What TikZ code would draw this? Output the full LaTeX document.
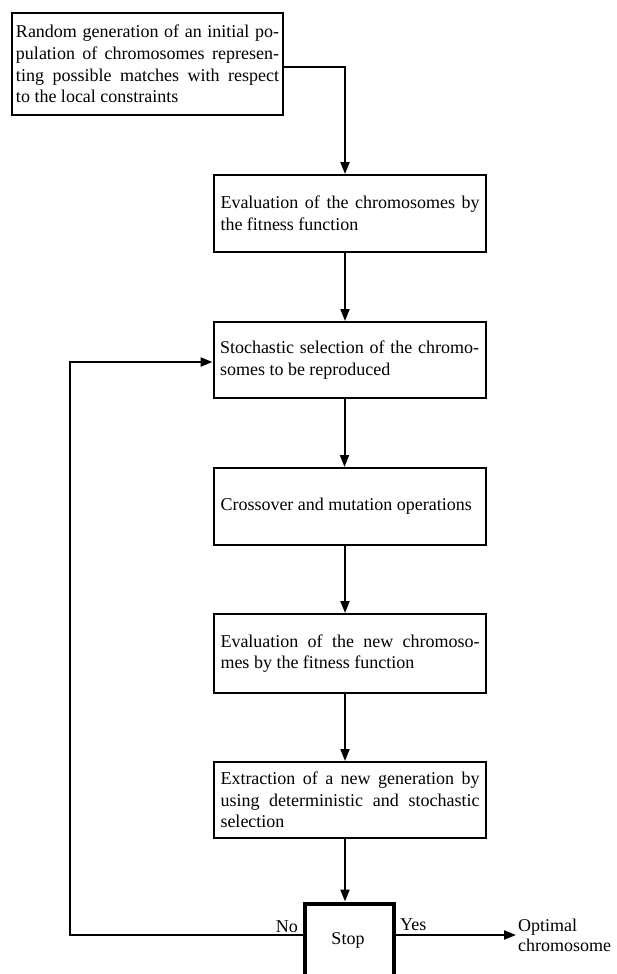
\documentclass[tikz,border=0pt]{standalone}
\usepackage{fontspec}
\setmainfont{Liberation Serif}
\usetikzlibrary{arrows.meta}
\hyphenpenalty=10000
\begin{document}
\begin{tikzpicture}[x=1pt,y=1pt,
  txt/.style={font=\fontsize{18}{21.7}\selectfont},
  firstbox/.style={txt, draw, line width=2pt, minimum width=271pt, text width=263pt, inner xsep=3pt, inner ysep=2pt, align=justify},
  flowbox/.style={txt, draw, line width=2pt, minimum width=272pt, text width=259pt, inner xsep=6pt, inner ysep=2pt, align=justify},
  stopbox/.style={draw, line width=4pt, minimum width=89pt, minimum height=130pt, inner sep=0pt},
  lbl/.style={txt, inner sep=0pt},
  arr/.style={line width=2pt, -{Triangle[length=12pt,width=9pt]}}]
\clip (0,0) rectangle (616,-974);
\node[firstbox, minimum height=102pt] (b1) at (147.5,-64) {Random generation of an initial po-\linebreak pulation of chromosomes represen-\linebreak ting possible matches with respect\linebreak to the local constraints};
\node[flowbox, minimum height=77pt] (b2) at (350,-213.5) {Evaluation of the chromosomes by\linebreak the fitness function};
\node[flowbox, minimum height=76pt] (b3) at (349.5,-360) {Stochastic selection of the chromo-\linebreak somes to be reproduced};
\node[flowbox, minimum height=77pt] (b4) at (350,-506.5) {Crossover and mutation operations};
\node[flowbox, minimum height=79pt] (b5) at (350,-653.5) {Evaluation of the new chromoso-\linebreak mes by the fitness function};
\node[flowbox, minimum height=76pt] (b6) at (350,-800) {Extraction of a new generation by\linebreak using deterministic and stochastic\linebreak selection};
\node[stopbox, anchor=north] (stop) at (349,-901.5) {};
\node[lbl] (stoptext) at (348,-940) {Stop};
\node[lbl, anchor=base east] (no) at (298,-932) {No};
\node[lbl, anchor=base west] (yes) at (400,-930) {Yes};
\node[lbl, anchor=west, align=left, inner sep=2pt, font=\fontsize{18}{20}\selectfont] (opt) at (516,-935) {Optimal\\chromosome};
\coordinate (noturn) at (70,-935);
\draw[arr] ([yshift=-3pt]b1.east) -| ([xshift=-5pt]b2.north);
\draw[arr] ([xshift=-5pt]b2.south) -- ([xshift=-5pt]b2.south |- b3.north);
\draw[arr] ([xshift=-5pt]b3.south) -- ([xshift=-5pt]b3.south |- b4.north);
\draw[arr] ([xshift=-5pt]b4.south) -- ([xshift=-5pt]b4.south |- b5.north);
\draw[arr] ([xshift=-5pt]b5.south) -- ([xshift=-5pt]b5.south |- b6.north);
\draw[arr] ([xshift=-5pt]b6.south) -- ([xshift=-5pt]b6.south |- stop.north);
\draw[arr] ([yshift=-33.5pt]stop.north west) -- (noturn) |- ([yshift=-2pt]b3.west);
\draw[arr] ([yshift=-33.5pt]stop.north east) -- (opt.west);
\end{tikzpicture}
\end{document}
